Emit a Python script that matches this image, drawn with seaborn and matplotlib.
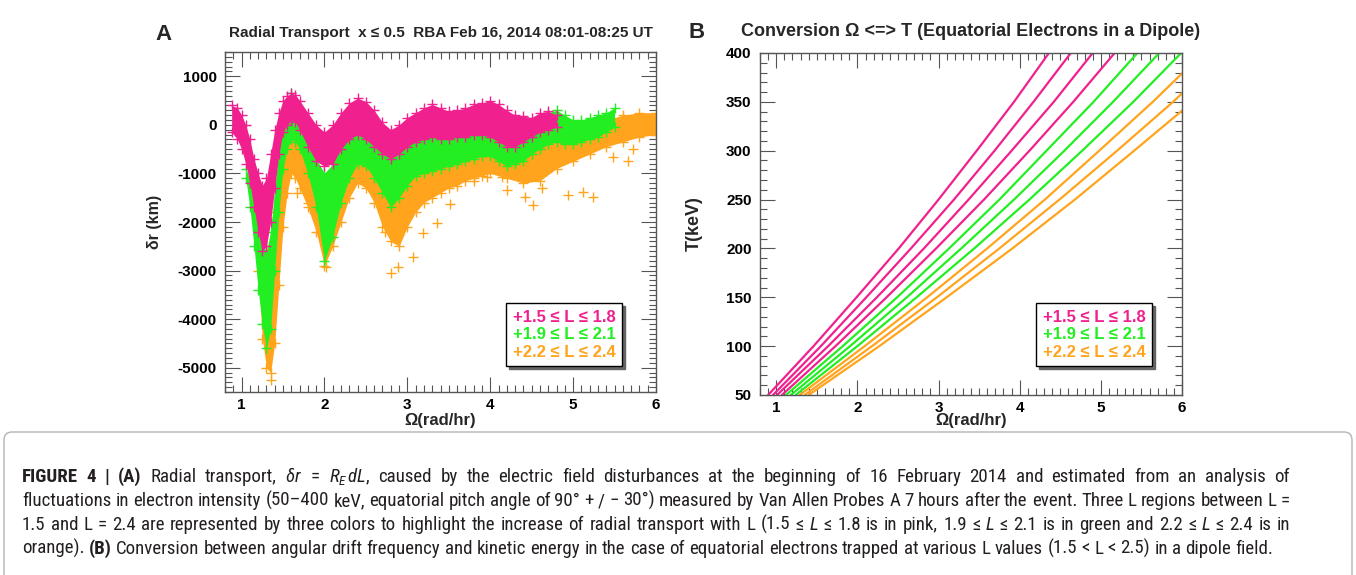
import pandas as pd
import seaborn as sns
import matplotlib.pyplot as plt
from matplotlib import font_manager
from matplotlib.lines import Line2D
from matplotlib.patches import FancyBboxPatch
from matplotlib.ticker import MultipleLocator
from matplotlib.transforms import IdentityTransform

# ---------------- panel A: radial transport bands ----------------
# upper / lower edge of each '+' cloud, delta r in km, at the given Omega (rad/hr)
pink_omega = [0.88, 0.95, 1.0, 1.05, 1.1, 1.15, 1.2, 1.25, 1.3, 1.35, 1.4, 1.45, 1.5, 1.55,
              1.6, 1.65, 1.7, 1.8, 1.9, 2.0, 2.1, 2.2, 2.3, 2.4, 2.5, 2.6, 2.7, 2.8, 2.9, 3.0,
              3.1, 3.2, 3.3, 3.4, 3.5, 3.6, 3.7, 3.8, 3.9, 4.0, 4.1, 4.2, 4.3, 4.4, 4.5, 4.6,
              4.7, 4.8]
pink_top = [400, 350, 200, 0, -300, -700, -1000, -1250, -1100, -600, -100, 250, 500, 600,
            650, 620, 500, 250, 0, -150, 0, 250, 450, 550, 480, 300, 50, -100, 0, 150,
            250, 350, 420, 350, 280, 300, 350, 420, 450, 500, 420, 300, 200, 180, 150, 250,
            280, 200]
pink_bottom = [-150, -300, -500, -800, -1200, -1700, -2200, -2600, -2500, -2000, -1300, -600, -150, 0,
               100, 50, -100, -450, -750, -850, -800, -500, -300, -200, -300, -450, -600, -700, -600, -450,
               -350, -300, -250, -300, -300, -250, -250, -200, -200, -250, -350, -450, -450, -350, -250, -150,
               -100, -50]

green_omega = [1.05, 1.1, 1.15, 1.2, 1.25, 1.3, 1.35, 1.4, 1.45, 1.5, 1.55, 1.6, 1.65, 1.7,
               1.8, 1.9, 2.0, 2.1, 2.2, 2.3, 2.4, 2.5, 2.6, 2.7, 2.8, 2.9, 3.0, 3.1, 3.2, 3.3,
               3.4, 3.5, 3.6, 3.7, 3.8, 3.9, 4.0, 4.1, 4.2, 4.3, 4.4, 4.5, 4.6, 4.7, 4.8, 4.9,
               5.0, 5.1, 5.2, 5.3, 5.4, 5.5]
green_top = [-900, -1100, -1600, -2100, -2500, -2600, -2200, -1300, -500, 0, 400, 650, 500, 200,
             -300, -700, -1000, -800, -400, -100, 100, 0, -200, -400, -600, -500, -300, -200, -100, -50,
             -100, -150, -100, 0, 50, 0, -50, -150, -250, -200, -100, 0, 150, 250, 300, 200,
             100, 100, 150, 200, 250, 350]
green_bottom = [-1100, -1700, -2500, -3400, -4100, -4600, -4200, -3000, -1800, -900, -500, -300, -350, -500,
                -1000, -1700, -2800, -2300, -1600, -1100, -800, -850, -1100, -1400, -1700, -1500, -1250, -1050, -1000, -950,
                -900, -850, -800, -750, -700, -650, -650, -750, -850, -800, -750, -600, -500, -400, -350, -400,
                -400, -350, -300, -250, -150, -50]

orange_omega = [1.2, 1.25, 1.3, 1.35, 1.4, 1.45, 1.5, 1.55, 1.6, 1.65, 1.7,
                1.8, 1.9, 2.0, 2.1, 2.2, 2.3, 2.4, 2.5, 2.6, 2.7, 2.8, 2.9, 3.0, 3.1, 3.2, 3.3,
                3.4, 3.5, 3.6, 3.7, 3.8, 3.9, 4.0, 4.2, 4.4, 4.6, 4.8, 5.0, 5.2, 5.4, 5.6, 5.8, 6.0]
orange_top = [-2000, -2600, -2900, -2500, -1800, -1000, -400, -100, 0, -100, -300,
              -800, -1300, -1800, -1500, -1000, -600, -350, -450, -650, -900, -1100, -1000, -800, -650, -550, -500,
              -450, -450, -400, -400, -350, -350, -300, -400, -450, -350, -150, -100, 0, 100, 200, 250, 250]
orange_bottom = [-3000, -4400, -5000, -5100, -4500, -3300, -2100, -1400, -1000, -1100, -1300,
                 -1700, -2200, -2900, -2500, -2000, -1500, -1200, -1300, -1600, -2100, -2400, -2500, -2100, -1800, -1600, -1500,
                 -1400, -1300, -1250, -1150, -1100, -1050, -1000, -1100, -1200, -1150, -900, -750, -600, -450, -350, -250, -200]

# stray orange crosses below the band
orange_stray_omega = [1.36, 1.67, 1.80, 1.87, 2.02, 2.73, 2.80, 2.89, 3.07, 3.19, 3.36, 3.52, 3.80,
                      3.96, 4.14, 4.20, 4.42, 4.52, 4.63, 4.94, 5.12, 5.24, 5.48, 5.66, 5.72]
orange_stray_dr = [-5250, -1410, -1600, -1820, -2920, -2210, -3050, -2930, -2720, -2230, -2030, -1620, -1150,
                   -1080, -1080, -1350, -1490, -1660, -1310, -1450, -1390, -1480, -670, -740, -490]

# ---------------- panel B: Omega (rad/hr) at each kinetic energy, one curve per L ----------------
energy_kev = [50, 100, 150, 200, 250, 300, 350, 400]
l_values = [1.5, 1.6, 1.7, 1.8, 1.9, 2.0, 2.1, 2.2, 2.3, 2.4]
omega_by_l = [
    [0.90, 1.46, 1.99, 2.51, 3.00, 3.47, 3.93, 4.36],
    [0.96, 1.55, 2.11, 2.66, 3.19, 3.69, 4.17, 4.63],
    [1.01, 1.64, 2.24, 2.82, 3.37, 3.90, 4.42, 4.90],
    [1.07, 1.73, 2.36, 2.97, 3.56, 4.12, 4.66, 5.17],
    [1.12, 1.82, 2.49, 3.13, 3.75, 4.33, 4.91, 5.45],
    [1.18, 1.91, 2.61, 3.28, 3.93, 4.55, 5.15, 5.72],
    [1.24, 2.00, 2.73, 3.44, 4.12, 4.77, 5.40, 5.99],
    [1.29, 2.09, 2.86, 3.60, 4.31, 4.98, 5.64, 6.26],
    [1.35, 2.18, 2.98, 3.75, 4.49, 5.20, 5.89, 6.53],
    [1.40, 2.27, 3.10, 3.91, 4.68, 5.41, 6.13, 6.80],
]

legend_labels = ['+1.5 \u2264 L \u2264 1.8', '+1.9 \u2264 L \u2264 2.1', '+2.2 \u2264 L \u2264 2.4']

PINK, GREEN, ORANGE = '#f0218e', '#22ee22', '#ffa41c'
group_colors = [PINK, GREEN, ORANGE]
FRAME = '#555555'
W, H = 1356, 575


def caption_family():
    for fam in ['Liberation Sans Narrow', 'Roboto Condensed']:
        try:
            font_manager.findfont(font_manager.FontProperties(family=fam), fallback_to_default=False)
            return fam
        except ValueError:
            pass
    return 'Liberation Sans'


sns.set_theme(style='white')
plt.rcParams['font.family'] = ['Liberation Sans', 'DejaVu Sans']
plt.rcParams['font.weight'] = 'bold'
plt.rcParams['axes.unicode_minus'] = False
CAP = caption_family()
plt.rcParams['mathtext.fontset'] = 'custom'
plt.rcParams['mathtext.rm'] = CAP + ':weight=normal'
plt.rcParams['mathtext.it'] = CAP + ':style=italic:weight=normal'
plt.rcParams['mathtext.bf'] = CAP + ':weight=bold'

fig = plt.figure(figsize=(W / 100, H / 100), dpi=100)
axA = fig.add_axes([225 / W, 1 - 392 / H, 431 / W, 340 / H])
axB = fig.add_axes([760 / W, 1 - 395 / H, 422 / W, 342 / H])


def draw_band(ax, omega, top, bottom, color, z):
    ax.fill_between(omega, bottom, top, color=color, lw=0, zorder=z)
    edges = pd.DataFrame({'omega': omega + omega, 'dr': top + bottom})
    sns.scatterplot(data=edges, x='omega', y='dr', marker='+', s=42, color=color,
                    linewidth=1.0, ax=ax, zorder=z + 0.5, legend=False)


def style_axes(ax, ylim, ymajor, yminor):
    ax.set_xlim(0.8, 6)
    ax.set_ylim(*ylim)
    ax.xaxis.set_major_locator(MultipleLocator(1))
    ax.xaxis.set_minor_locator(MultipleLocator(0.1))
    ax.yaxis.set_major_locator(MultipleLocator(ymajor))
    ax.yaxis.set_minor_locator(MultipleLocator(yminor))
    ax.tick_params(which='both', direction='in', top=True, right=True, bottom=True, left=True,
                   color=FRAME, width=0.8, labelsize=11, labelcolor='black')
    ax.tick_params(which='major', length=10.5)
    ax.tick_params(which='minor', length=5)
    ax.tick_params(axis='y', pad=6)
    ax.tick_params(axis='x', pad=4)
    for sp in ax.spines.values():
        sp.set_visible(True)
        sp.set_color(FRAME)
        sp.set_linewidth(1.0)


def box_legend(ax, anchor):
    handles = [Line2D([], [], linestyle='none') for _ in legend_labels]
    leg = ax.legend(handles, legend_labels, loc='upper left', bbox_to_anchor=anchor,
                    handlelength=0, handletextpad=0, borderpad=0.4, labelspacing=0.15,
                    borderaxespad=0, fancybox=False, framealpha=1, edgecolor='black',
                    shadow={'color': '0.35', 'alpha': 0.9},
                    prop={'weight': 'bold', 'size': 12, 'family': ['Liberation Sans', 'DejaVu Sans']})
    leg.get_frame().set_linewidth(1.0)
    for txt, c in zip(leg.get_texts(), group_colors):
        txt.set_color(c)


# ---- panel A ----
draw_band(axA, orange_omega, orange_top, orange_bottom, ORANGE, 2)
stray = pd.DataFrame({'omega': orange_stray_omega, 'dr': orange_stray_dr})
sns.scatterplot(data=stray, x='omega', y='dr', marker='+', s=42, color=ORANGE,
                linewidth=1.0, ax=axA, zorder=2.5, legend=False)
draw_band(axA, green_omega, green_top, green_bottom, GREEN, 3)
draw_band(axA, pink_omega, pink_top, pink_bottom, PINK, 4)
style_axes(axA, (-5500, 1500), 1000, 100)
axA.set_xlabel('\u03a9(rad/hr)', fontsize=12, fontweight='bold')
axA.set_ylabel('\u03b4r (km)', fontsize=11.5, fontweight='bold')
axA.xaxis.set_label_coords(0.5, -21 / 340)
axA.yaxis.set_label_coords(-63 / 431, 0.5)
axA.text(0.5, 1 + 18.5 / 340, 'Radial Transport  x \u2264 0.5  RBA Feb 16, 2014 08:01-08:25 UT',
         transform=axA.transAxes, ha='center', va='center', fontsize=11, fontweight='bold')
box_legend(axA, (281 / 431, 1 - 251 / 340))

# ---- panel B ----
curves = pd.DataFrame({
    'L': [l for l in l_values for _ in energy_kev],
    'T': energy_kev * len(l_values),
    'omega': [w for row in omega_by_l for w in row],
})
line_palette = {l: (PINK if l < 1.85 else GREEN if l < 2.15 else ORANGE) for l in l_values}
sns.lineplot(data=curves, x='omega', y='T', hue='L', palette=line_palette, estimator=None,
             sort=False, linewidth=1.6, legend=False, ax=axB)
style_axes(axB, (50, 400), 50, 10)
axB.set_xlabel('\u03a9(rad/hr)', fontsize=12, fontweight='bold')
axB.set_ylabel('T(keV)', fontsize=13, fontweight='bold')
axB.xaxis.set_label_coords(0.5, -18 / 342)
axB.yaxis.set_label_coords(-57 / 422, 0.5)
axB.text(0.5, 1 + 21.5 / 342, 'Conversion \u03a9 <=> T (Equatorial Electrons in a Dipole)',
         transform=axB.transAxes, ha='center', va='center', fontsize=13, fontweight='bold')
box_legend(axB, (276 / 422, 1 - 250 / 342))

# panel letters
fig.text(163.5, H - 34.5, 'A', transform=IdentityTransform(), ha='center', va='center',
         fontsize=16, fontweight='bold')
fig.text(697, H - 32.5, 'B', transform=IdentityTransform(), ha='center', va='center',
         fontsize=16, fontweight='bold')

# ---- caption ----
fig.add_artist(FancyBboxPatch((4, -20), 1348, 20 + H - 432, boxstyle='round,pad=0,rounding_size=8',
                              transform=IdentityTransform(), facecolor='none', edgecolor='#b4b4b4', lw=1))

caption_lines = [
    [('FIGURE 4 | (A)', 'b'), ('Radial transport,', 'n'), ('$\\delta r$', 'm'), ('=', 'n'),
     ('$R_E\\,dL$,', 'm'),
     ('caused by the electric field disturbances at the beginning of 16 February 2014 and estimated from an analysis of', 'n')],
    [('fluctuations in electron intensity (50\u2013400 keV, equatorial pitch angle of 90\u00b0 + / \u2212 30\u00b0) '
      'measured by Van Allen Probes A 7 hours after the event. Three L regions between L =', 'n')],
    [('1.5 and L = 2.4 are represented by three colors to highlight the increase of radial transport with L (1.5 \u2264', 'n'),
     ('L', 'i'), ('\u2264 1.8 is in pink, 1.9 \u2264', 'n'), ('L', 'i'), ('\u2264 2.1 is in green and 2.2 \u2264', 'n'),
     ('L', 'i'), ('\u2264 2.4 is in', 'n')],
    [('orange).', 'n'), ('(B)', 'b'),
     ('Conversion between angular drift frequency and kinetic energy in the case of equatorial electrons '
      'trapped at various L values (1.5 < L < 2.5) in a dipole field.', 'n')],
]
caption_baselines = [482, 506, 530, 554]
CAP_X0, CAP_X1 = 22, 1290

renderer = fig.canvas.get_renderer()


def cap_props(style, size):
    return dict(fontsize=size, family=[CAP, 'DejaVu Sans'],
                fontweight='bold' if style == 'b' else 'normal',
                fontstyle='italic' if style == 'i' else 'normal', color='#231f20')


def words_of(line):
    out = []
    for text, style in line:
        if style == 'm':
            out.append((text, style))
        else:
            out.extend((w, style) for w in text.split(' ') if w)
    return out


def text_width(s, style, size):
    t = fig.text(0, 0, s, transform=IdentityTransform(), **cap_props(style, size))
    w = t.get_window_extent(renderer).width
    t.remove()
    return w


def natural_width(line, size):
    ws = words_of(line)
    space = text_width('x x', 'n', size) - text_width('xx', 'n', size)
    return sum(text_width(w, s, size) for w, s in ws) + space * (len(ws) - 1)


base = 10.0
widest = max(natural_width(ln, base) for ln in caption_lines[:3])
cap_size = base * (CAP_X1 - CAP_X0) / widest * 0.995

for i, (line, yb) in enumerate(zip(caption_lines, caption_baselines)):
    ws = words_of(line)
    widths = [text_width(w, s, cap_size) for w, s in ws]
    if i < 3:
        gap = (CAP_X1 - CAP_X0 - sum(widths)) / (len(ws) - 1)
    else:
        gap = text_width('x x', 'n', cap_size) - text_width('xx', 'n', cap_size)
    x = CAP_X0
    for (w, s), wd in zip(ws, widths):
        fig.text(x, H - yb, w, transform=IdentityTransform(), ha='left', va='baseline',
                 **cap_props(s, cap_size))
        x += wd + gap

fig.savefig('out.png', dpi=100)
